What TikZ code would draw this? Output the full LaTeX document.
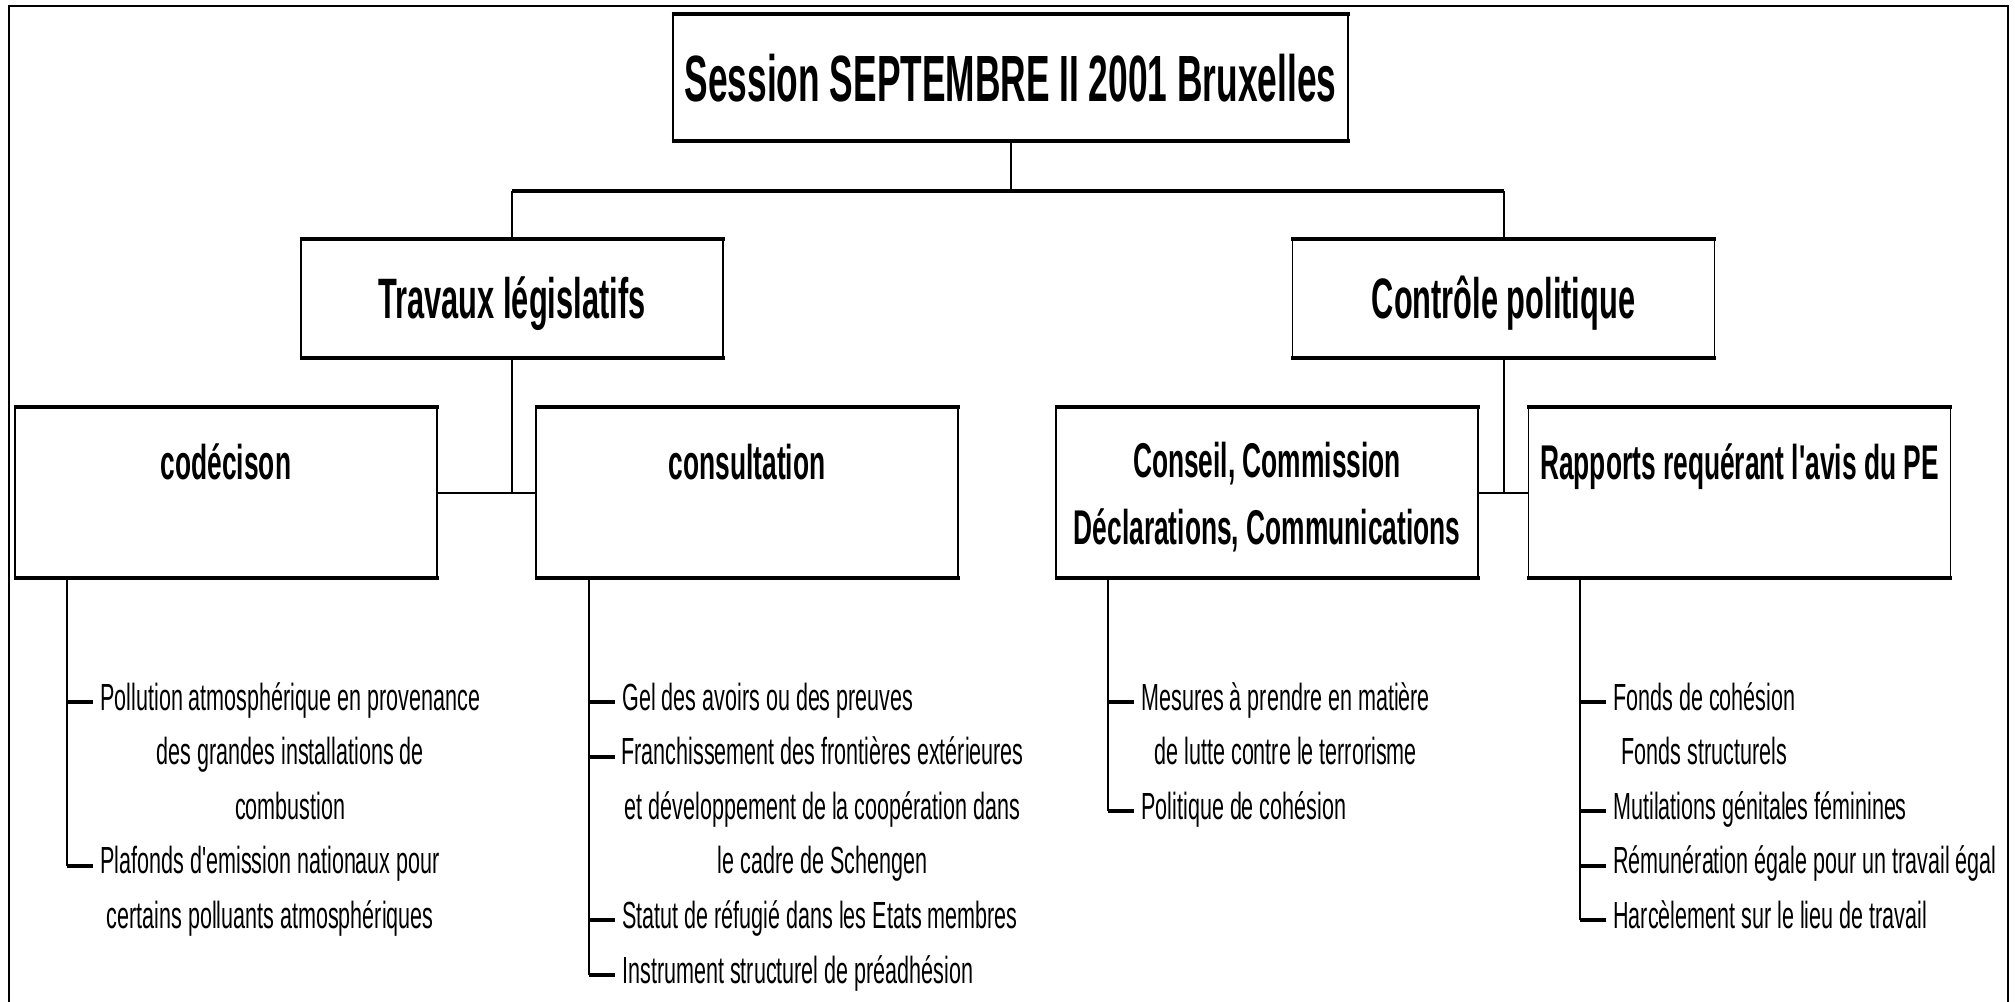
\documentclass[tikz,border=0pt]{standalone}
\usepackage{fontspec}
\newfontfamily\nfb[FakeStretch=0.54]{Liberation Sans}
\newfontfamily\nfr[FakeStretch=0.57]{Liberation Sans}
\newcommand\stk[1]{\begin{tabular}[t]{@{}c@{}}#1\end{tabular}}
\newcommand\thickedges[1]{\draw[line width=2pt] ([xshift=-0.375pt]#1.north west) -- ([xshift=0.375pt]#1.north east) ([xshift=-0.375pt]#1.south west) -- ([xshift=0.375pt]#1.south east);}
\begin{document}
\begin{tikzpicture}[x=0.5pt,y=-0.5pt,
  frameline/.style={line width=1pt},
  boxline/.style={draw,line width=0.75pt,inner sep=0pt},
  bigbox/.style={boxline,minimum width=337.5pt,minimum height=62.5pt},
  midbox/.style={boxline,minimum width=211pt,minimum height=58.5pt},
  lowbox/.style={boxline,minimum width=211pt,minimum height=84.5pt},
  conn/.style={line width=1pt},
  busline/.style={line width=1.75pt},
  lline/.style={line width=1pt},
  tickline/.style={line width=2pt},
  ttl/.style={font=\nfb\bfseries\fontsize{32.7}{36}\selectfont,anchor=base,inner sep=0pt},
  lvtwo/.style={font=\nfb\bfseries\fontsize{28.5}{32}\selectfont,anchor=base,inner sep=0pt},
  lvthree/.style={font=\nfb\bfseries\fontsize{24.4}{33.5}\selectfont,anchor=base,inner sep=0pt},
  itm/.style={font=\nfr\fontsize{18.9}{27.3}\selectfont,anchor=base west,inner sep=0pt}
]
\useasboundingbox (0,0) rectangle (2015,1002);
\fill[white] (0,0) rectangle (2015,1002);
% outer frame
\draw[frameline] (9,1002) -- (9,6) -- (2008,6) -- (2008,1002);

% boxes
\node[bigbox] (top) at (1010.5,77.5) {};
\thickedges{top}
\node[ttl] (toptxt) at (1010.5,101) {Session SEPTEMBRE II 2001 Bruxelles};

\node[midbox] (trav) at (512,298.5) {};
\thickedges{trav}
\node[lvtwo] (travtxt) at (512,318) {Travaux législatifs};
\node[midbox] (ctrl) at (1503.5,298.5) {};
\thickedges{ctrl}
\node[lvtwo] (ctrltxt) at (1503.5,318) {Contrôle politique};

\node[lowbox] (cod) at (226,492.5) {};
\thickedges{cod}
\node[lvthree] (codtxt) at (226,479) {codécison};
\node[lowbox] (cons) at (747,492.5) {};
\thickedges{cons}
\node[lvthree] (constxt) at (747,479) {consultation};
\node[lowbox] (cc) at (1267,492.5) {};
\thickedges{cc}
\node[lvthree] (cctxt) at (1267,477) {\stk{Conseil, Commission\\Déclarations, Communications}};
\node[lowbox] (rap) at (1739.5,492.5) {};
\thickedges{rap}
\node[lvthree] (raptxt) at (1739.5,479) {Rapports requérant l'avis du PE};

% connectors
\coordinate (bus) at (1010.5,191);
\draw[conn] (top.south) -- (top.south |- bus);
\draw[busline] (trav.north |- bus) -- (ctrl.north |- bus);
\draw[conn] (trav.north |- bus) -- (trav.north);
\draw[conn] (ctrl.north |- bus) -- (ctrl.north);
\draw[conn] (trav.south) -- (trav.south |- cod.east);
\draw[conn] (cod.east) -- (cons.west);
\draw[conn] (ctrl.south) -- (ctrl.south |- cc.east);
\draw[conn] (cc.east) -- (rap.west);

% list: codecison
\coordinate (a1) at (67,702);
\coordinate (a2) at (67,865.8);
\draw[lline] (cod.south -| a1) -- (a2);
\draw[tickline] (a1) -- +(26,0);
\draw[tickline] (a2) -- +(26,0);
\node[itm] (a1t) at (100,710) {\stk{Pollution atmosphérique en provenance\\des grandes installations de\\combustion}};
\node[itm] (a2t) at (100,873.8) {\stk{Plafonds d'emission nationaux pour\\certains polluants atmosphériques}};

% list: consultation
\coordinate (b1) at (589,702);
\coordinate (b2) at (589,756.6);
\coordinate (b3) at (589,920.4);
\coordinate (b4) at (589,975);
\draw[lline] (cons.south -| b1) -- (b4);
\foreach \p in {b1,b2,b3,b4} {\draw[tickline] (\p) -- +(26,0);}
\node[itm] (b1t) at (622,710) {Gel des avoirs ou des preuves};
\node[itm] (b2t) at (621,764.6) {\stk{Franchissement des frontières extérieures\\et développement de la coopération dans\\le cadre de Schengen}};
\node[itm] (b3t) at (622,928.4) {Statut de réfugié dans les Etats membres};
\node[itm] (b4t) at (622,983) {Instrument structurel de préadhésion};

% list: conseil
\coordinate (c1) at (1108,702);
\coordinate (c2) at (1108,811.2);
\draw[lline] (cc.south -| c1) -- (c2);
\foreach \p in {c1,c2} {\draw[tickline] (\p) -- +(26,0);}
\node[itm] (c1t) at (1141,710) {\stk{Mesures à prendre en matière\\de lutte contre le terrorisme}};
\node[itm] (c2t) at (1141,819.2) {Politique de cohésion};

% list: rapports
\coordinate (d1) at (1580,702);
\coordinate (d2) at (1580,811.2);
\coordinate (d3) at (1580,865.8);
\coordinate (d4) at (1580,920.4);
\draw[lline] (rap.south -| d1) -- (d4);
\foreach \p in {d1,d2,d3,d4} {\draw[tickline] (\p) -- +(26,0);}
\node[itm] (d1t) at (1613,710) {\stk{Fonds de cohésion\\Fonds structurels}};
\node[itm] (d2t) at (1613,819.2) {Mutilations génitales féminines};
\node[itm] (d3t) at (1613,873.8) {Rémunération égale pour un travail égal};
\node[itm] (d4t) at (1613,928.4) {Harcèlement sur le lieu de travail};
\end{tikzpicture}
\end{document}
